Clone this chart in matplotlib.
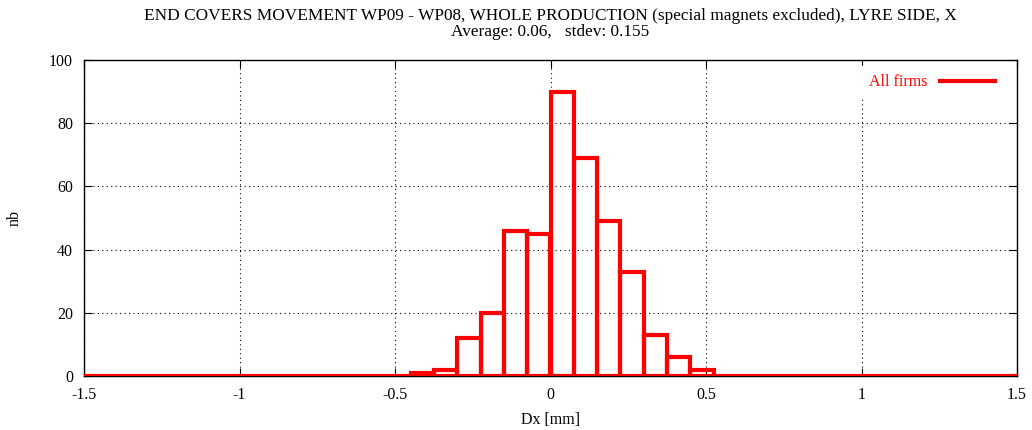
import numpy as np
import matplotlib.pyplot as plt
from matplotlib.lines import Line2D

plt.rcParams['font.family'] = ['Liberation Serif', 'DejaVu Serif']

# histogram bins: width 0.075 from -1.5 to 1.5
bin_width = 0.075
bin_left = np.round(np.arange(-1.5, 1.5, bin_width), 4)
counts = np.zeros(len(bin_left))
nonzero = {
    -0.45: 1, -0.375: 2, -0.3: 12, -0.225: 20, -0.15: 46, -0.075: 45,
    0.0: 90, 0.075: 69, 0.15: 49, 0.225: 33, 0.3: 13, 0.375: 6, 0.45: 2,
}
for k, v in nonzero.items():
    counts[np.argmin(np.abs(bin_left - k))] = v

fig = plt.figure(figsize=(10.32, 4.30), dpi=100)
ax = fig.add_axes([84 / 1032, 1 - 376 / 430, 933 / 1032, 316 / 430])

ax.bar(bin_left, counts, width=bin_width, align='edge', fill=False,
       edgecolor='#ff0000', linewidth=3, zorder=3)

ax.set_xlim(-1.5, 1.5)
ax.set_ylim(0, 100)
ax.set_xticks(np.arange(-1.5, 1.51, 0.5))
ax.set_xticklabels(['-1.5', '-1', '-0.5', '0', '0.5', '1', '1.5'])
ax.set_yticks(np.arange(0, 101, 20))
ax.tick_params(direction='in', top=True, right=True, length=6, labelsize=11.5,
               pad=8)
ax.grid(True, color='black', linestyle=(0, (1, 3)), linewidth=0.8)
for s in ax.spines.values():
    s.set_linewidth(1)

ax.set_xlabel('Dx [mm]', fontsize=11.5)
ax.xaxis.set_label_coords(0.5, -(420 - 376) / 316, transform=ax.transAxes)
ax.set_ylabel('nb', fontsize=11.5)
ax.yaxis.set_label_coords(-(84 - 15) / 933, 0.5, transform=ax.transAxes)
ax.yaxis.label.set_va('center')
ax.xaxis.label.set_va('center')

# titles are centred over the plot area
ax.text(0.5, 1 + (60 - 16) / 316, 'END COVERS MOVEMENT WP09 - WP08, WHOLE PRODUCTION (special magnets excluded), LYRE SIDE, X',
        transform=ax.transAxes, ha='center', va='center', fontsize=12.4)
ax.text(0.5, 1 + (60 - 32) / 316, 'Average: 0.06,   stdev: 0.155',
        transform=ax.transAxes, ha='center', va='center', fontsize=12.4)

handle = Line2D([], [], color='#ff0000', linewidth=3)
leg = ax.legend([handle], ['All firms'], loc='upper right',
                bbox_to_anchor=(1 - 8 / 933, 1), frameon=True,
                fancybox=False, edgecolor='white', framealpha=1,
                markerfirst=False, handlelength=3.4, fontsize=11.5,
                labelcolor='#ff0000', borderaxespad=0.4, borderpad=0.5)
leg.set_zorder(5)

fig.savefig('out.png', dpi=100)
